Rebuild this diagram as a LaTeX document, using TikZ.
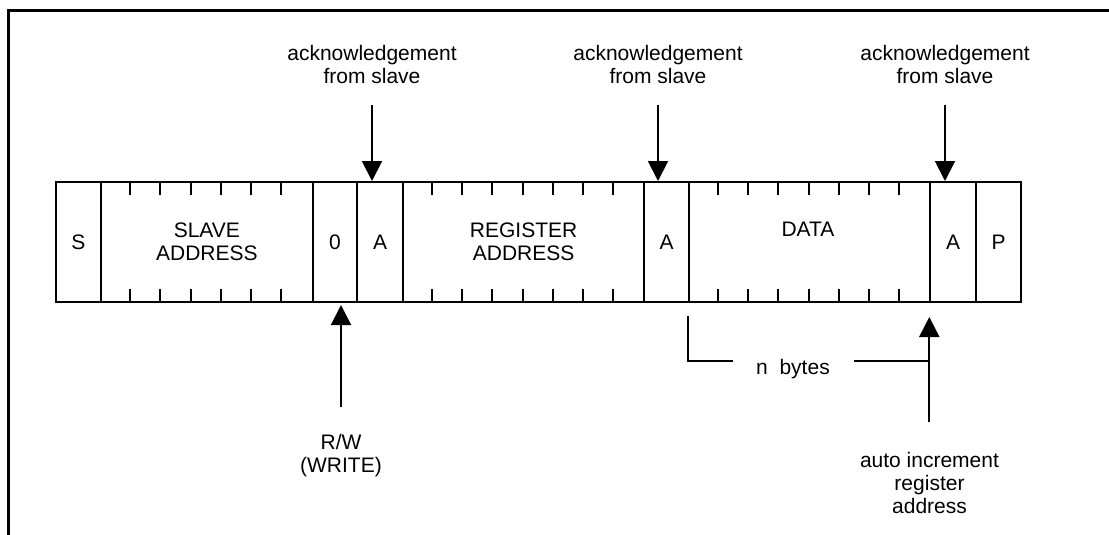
\documentclass[tikz,border=0pt]{standalone}
\usepackage{fontspec}
\setmainfont{Liberation Sans}
\usetikzlibrary{arrows.meta,calc}
\newcommand\lblfont{\fontsize{21}{23}\selectfont}
\begin{document}
\begin{tikzpicture}[x=1pt,y=-1pt,
  field/.style={draw,line width=2pt,minimum height=120pt,inner sep=0pt,
    anchor=north west,font=\lblfont,align=center},
  lbl/.style={font=\lblfont,align=center,inner sep=0pt},
  tick/.style={line width=2pt},
  arr/.style={line width=2pt,-{Triangle[width=20pt,length=20pt]}},
  frame/.style={line width=3pt}]
\useasboundingbox (0,0) rectangle (1109,535);
% frame (top and left sides)
\draw[frame] (8,535) -- (8,11) -- (1109,11);
% fields
\node[field,minimum width=45pt] (S) at (55,181) {S};
\node[field,minimum width=211.7pt] (SA) at (100,181) {SLAVE\\ADDRESS};
\node[field,minimum width=44.3pt] (Z) at (311.7,181) {0};
\node[field,minimum width=46pt] (A1) at (356,181) {A};
\node[field,minimum width=241.3pt] (RA) at (402,181) {REGISTER\\ADDRESS};
\node[field,minimum width=44.7pt] (A2) at (643.3,181) {A};
\node[field,minimum width=241.3pt] (D) at (688,181) {};
\node[lbl] (Dl) at (808,229) {DATA};
\node[field,minimum width=45.7pt] (A3) at (929.3,181) {A};
\node[field,minimum width=45.3pt] (P) at (975,181) {P};
% bit ticks
\foreach \i in {1,...,6} {
  \draw[tick] ($(SA.north west)+(\i*30.24,0)$) -- ++(0,14);
  \draw[tick] ($(SA.south west)+(\i*30.24,0)$) -- ++(0,-14);
}
\foreach \f in {RA,D} {
  \foreach \i in {1,...,7} {
    \draw[tick] ($(\f.north west)+(\i*30.16,0)$) -- ++(0,14);
    \draw[tick] ($(\f.south west)+(\i*30.16,0)$) -- ++(0,-14);
  }
}
% acknowledgement labels and arrows
\node[lbl] (k1) at (372,64) {acknowledgement\\from slave};
\node[lbl] (k2) at (658,64) {acknowledgement\\from slave};
\node[lbl] (k3) at (945,64) {acknowledgement\\from slave};
\coordinate (t1) at (372,105);
\coordinate (t2) at (658,105);
\coordinate (t3) at (945,105);
\draw[arr] (t1) -- (t1 |- A1.north);
\draw[arr] (t2) -- (t2 |- A2.north);
\draw[arr] (t3) -- (t3 |- A3.north);
% R/W
\node[lbl] (rwl) at (341,456) {R/W\\(WRITE)};
\coordinate (rw) at (341,407);
\draw[arr] (rw) -- ($(rw |- Z.south)+(0,2)$);
% n bytes
\node[lbl] (nb) at (793,369) {n~~bytes};
\coordinate (nbl) at (688,316);
\coordinate (nbr) at (929.3,361);
\draw[tick] (nbl) -- (688,361) -- (733,361);
\draw[tick] (854,361) -- (nbr);
\coordinate (ai) at (929.3,422);
\draw[arr] (ai) -- (929.3,317);
\node[lbl] (ail) at (929.5,483) {auto increment\\register\\address};
\end{tikzpicture}
\end{document}
